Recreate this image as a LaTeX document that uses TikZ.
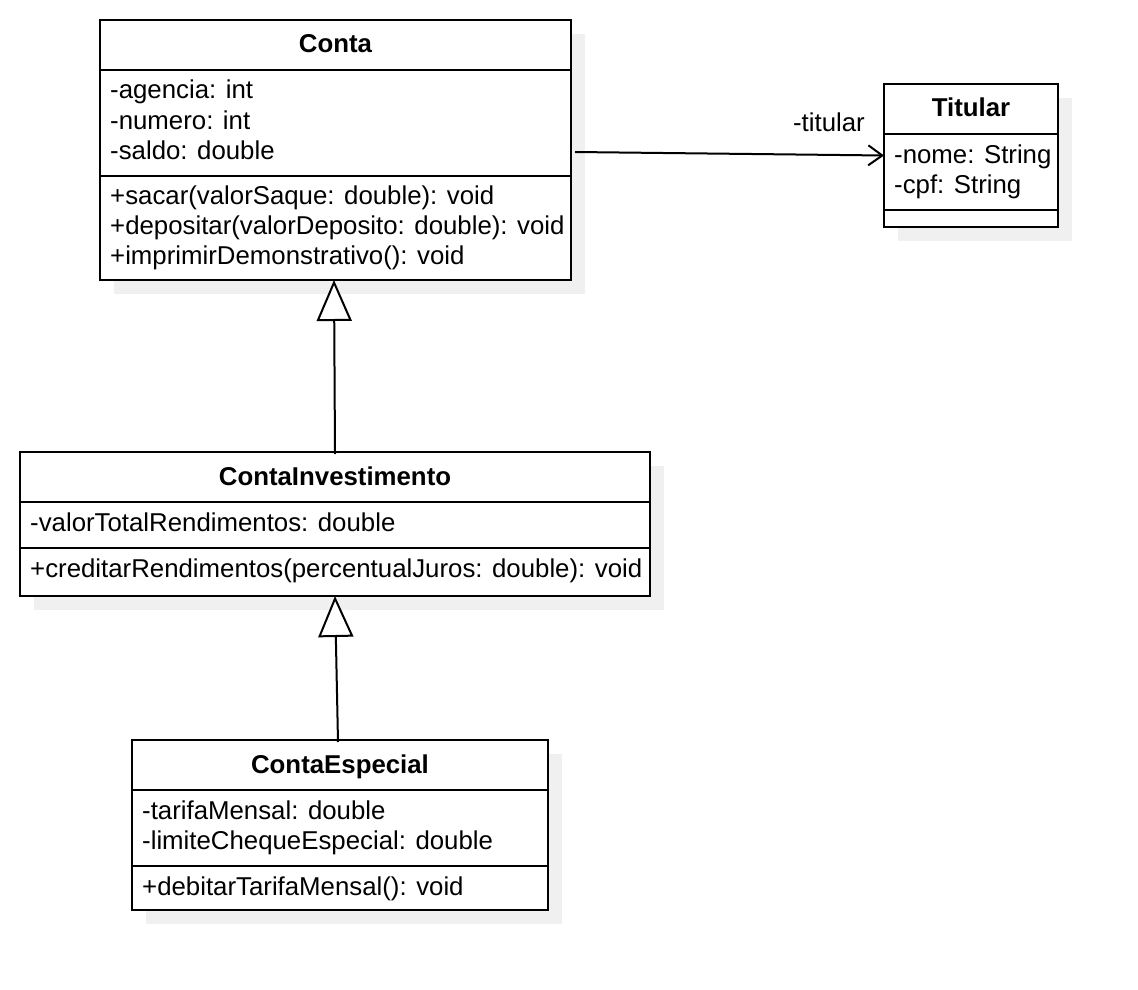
\documentclass[tikz,border=0pt]{standalone}
\usepackage{fontspec}
\setmainfont{Liberation Sans}
\usetikzlibrary{arrows.meta, shadows}

\begin{document}
\begin{tikzpicture}[x=1pt, y=-1pt,
    classbox/.style={draw, line width=2pt, fill=white, rectangle, anchor=north west, inner sep=0pt, outer sep=0pt,
        drop shadow={shadow xshift=14pt, shadow yshift=-14pt, fill=black!6, opacity=1}},
    title/.style={font=\fontsize{25.8}{30}\selectfont\bfseries, anchor=base, inner sep=0pt},
    member/.style={font=\fontsize{25.8}{30}\selectfont, anchor=base west, inner sep=0pt},
    divider/.style={line width=2pt},
    inherit/.style={line width=2pt, -{Triangle[length=41pt, width=35pt, fill=white, line width=2pt]}},
    assoc/.style={line width=2pt, -{Straight Barb[length=14pt, width=20pt, line width=2pt]}}]

    \useasboundingbox (0,0) rectangle (1138,990);

    \node[classbox, minimum width=471pt, minimum height=260pt] (conta) at (100,20) {};
    \draw[divider] (100,70) -- (571,70);
    \draw[divider] (100,176) -- (571,176);
    \node[title] (contaname) at (335.5,53) {Conta};
    \node[member] (contaa1) at (110,99) {-agencia: int};
    \node[member] (contaa2) at (110,129) {-numero: int};
    \node[member] (contaa3) at (110,159) {-saldo: double};
    \node[member] (contam1) at (110,204) {+sacar(valorSaque: double): void};
    \node[member] (contam2) at (110,234) {+depositar(valorDeposito: double): void};
    \node[member] (contam3) at (110,264) {+imprimirDemonstrativo(): void};

    \node[classbox, minimum width=174pt, minimum height=143pt] (titular) at (884,84) {};
    \draw[divider] (884,134) -- (1058,134);
    \draw[divider] (884,210) -- (1058,210);
    \node[title] (titularname) at (971,117) {Titular};
    \node[member] (titulara1) at (894,163) {-nome: String};
    \node[member] (titulara2) at (894,193) {-cpf: String};

    \node[classbox, minimum width=630pt, minimum height=144pt] (cinv) at (20,452) {};
    \draw[divider] (20,502) -- (650,502);
    \draw[divider] (20,548) -- (650,548);
    \node[title] (cinvname) at (335,485) {ContaInvestimento};
    \node[member] (cinva1) at (30,531) {-valorTotalRendimentos: double};
    \node[member] (cinvm1) at (30,577) {+creditarRendimentos(percentualJuros: double): void};

    \node[classbox, minimum width=416pt, minimum height=170pt] (cesp) at (132,740) {};
    \draw[divider] (132,790) -- (548,790);
    \draw[divider] (132,866) -- (548,866);
    \node[title] (cespname) at (340,773) {ContaEspecial};
    \node[member] (cespa1) at (142,819) {-tarifaMensal: double};
    \node[member] (cespa2) at (142,849) {-limiteChequeEspecial: double};
    \node[member] (cespm1) at (142,895) {+debitarTarifaMensal(): void};

    \draw[assoc] ([shift={(4,2)}]conta.east) -- (titular.west);
    \node[member, anchor=base east] (titularrole) at (865,131) {-titular};
    \draw[inherit] ([yshift=-2pt]cinv.north) -- ([xshift=-1.5pt]conta.south);
    \draw[inherit] ([xshift=-2pt, yshift=-2pt]cesp.north) -- (cinv.south);

\end{tikzpicture}
\end{document}
